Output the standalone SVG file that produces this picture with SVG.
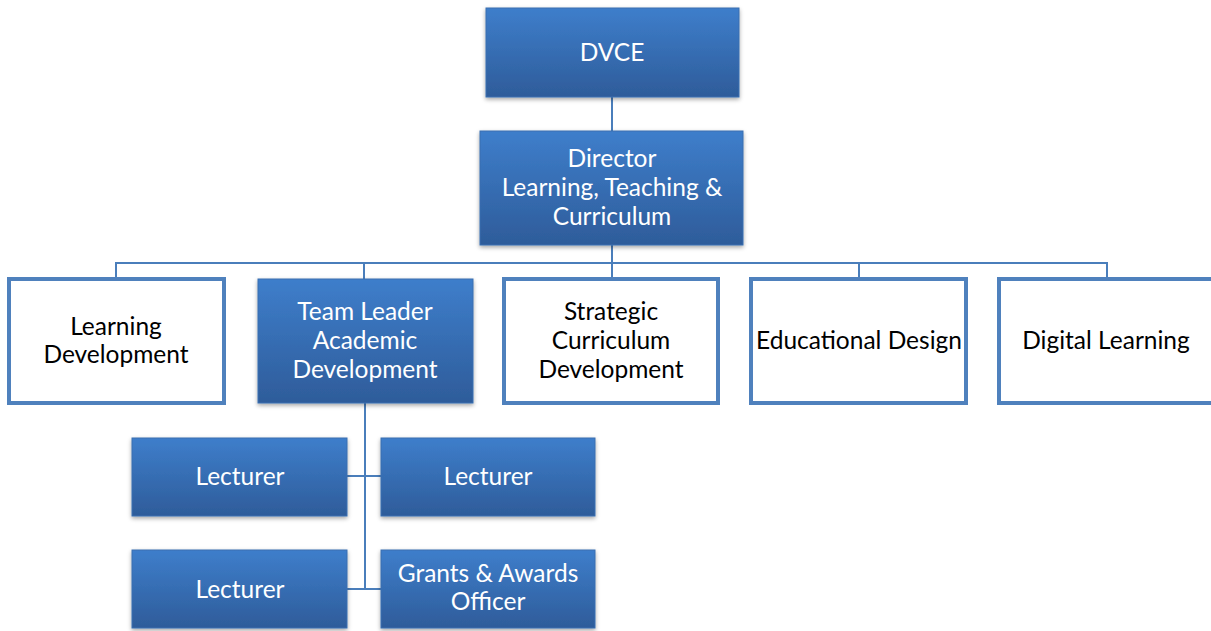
<svg xmlns="http://www.w3.org/2000/svg" width="1211" height="631" viewBox="0 0 1211 631">
  <defs>
    <linearGradient id="blueFill" x1="0" y1="0" x2="0" y2="1">
      <stop offset="0" stop-color="#3e7ecb"/>
      <stop offset="1" stop-color="#2e5c9a"/>
    </linearGradient>
    <filter id="shadow" x="-10%" y="-10%" width="120%" height="130%">
      <feDropShadow dx="0" dy="2" stdDeviation="2" flood-color="#000" flood-opacity="0.35"/>
    </filter>
  </defs>
  <style>
    .blue { fill: url(#blueFill); stroke: #3a6fb0; stroke-width: 1; filter: url(#shadow); }
    .plain { fill: #ffffff; stroke: #4f81bd; stroke-width: 4; }
    .link { fill: none; stroke: #4a7ebb; stroke-width: 2; }
    text { font-family: "Lato", "Liberation Sans", sans-serif; font-size: 24.5px; text-anchor: middle; }
    .wt { fill: #ffffff; }
    .bk { fill: #000000; }
  </style>
  <rect width="1211" height="631" fill="#ffffff"/>

  <!-- connectors -->
  <g id="connectors">
    <path class="link" d="M612 97 V131"/>
    <path class="link" d="M612 245 V279"/>
    <path class="link" d="M116 279 V263 H1107 V279"/>
    <path class="link" d="M364 263 V279"/>
    <path class="link" d="M859 263 V279"/>
    <path class="link" d="M365 403 V589"/>
    <path class="link" d="M347 476 H381"/>
    <path class="link" d="M347 589 H381"/>
  </g>

  <g id="dvce">
    <rect class="blue" x="486" y="8" width="253" height="89"/>
    <text class="wt" x="612" y="61">DVCE</text>
  </g>

  <g id="director">
    <rect class="blue" x="480" y="131" width="263" height="114"/>
    <text class="wt" x="612" y="167">Director</text>
    <text class="wt" x="612" y="196">Learning, Teaching &amp;</text>
    <text class="wt" x="612" y="225">Curriculum</text>
  </g>

  <g id="learning-development">
    <rect class="plain" x="9" y="279" width="215" height="124"/>
    <text class="bk" x="116" y="335">Learning</text>
    <text class="bk" x="116" y="363">Development</text>
  </g>

  <g id="team-leader">
    <rect class="blue" x="258" y="279" width="215" height="124"/>
    <text class="wt" x="365" y="320">Team Leader</text>
    <text class="wt" x="365" y="349">Academic</text>
    <text class="wt" x="365" y="378">Development</text>
  </g>

  <g id="strategic-curriculum">
    <rect class="plain" x="504" y="279" width="214" height="124"/>
    <text class="bk" x="611" y="320">Strategic</text>
    <text class="bk" x="611" y="349">Curriculum</text>
    <text class="bk" x="611" y="378">Development</text>
  </g>

  <g id="educational-design">
    <rect class="plain" x="751" y="279" width="215" height="124"/>
    <text class="bk" x="859" y="349">Educational Design</text>
  </g>

  <g id="digital-learning">
    <rect class="plain" x="999" y="279" width="215" height="124"/>
    <text class="bk" x="1106" y="349">Digital Learning</text>
  </g>

  <g id="lecturer-1">
    <rect class="blue" x="132" y="438" width="215" height="78"/>
    <text class="wt" x="240" y="485">Lecturer</text>
  </g>

  <g id="lecturer-2">
    <rect class="blue" x="381" y="438" width="214" height="78"/>
    <text class="wt" x="488" y="485">Lecturer</text>
  </g>

  <g id="lecturer-3">
    <rect class="blue" x="132" y="550" width="215" height="78"/>
    <text class="wt" x="240" y="598">Lecturer</text>
  </g>

  <g id="grants-awards">
    <rect class="blue" x="381" y="550" width="214" height="78"/>
    <text class="wt" x="488" y="582">Grants &amp; Awards</text>
    <text class="wt" x="488" y="610">Officer</text>
  </g>
</svg>
